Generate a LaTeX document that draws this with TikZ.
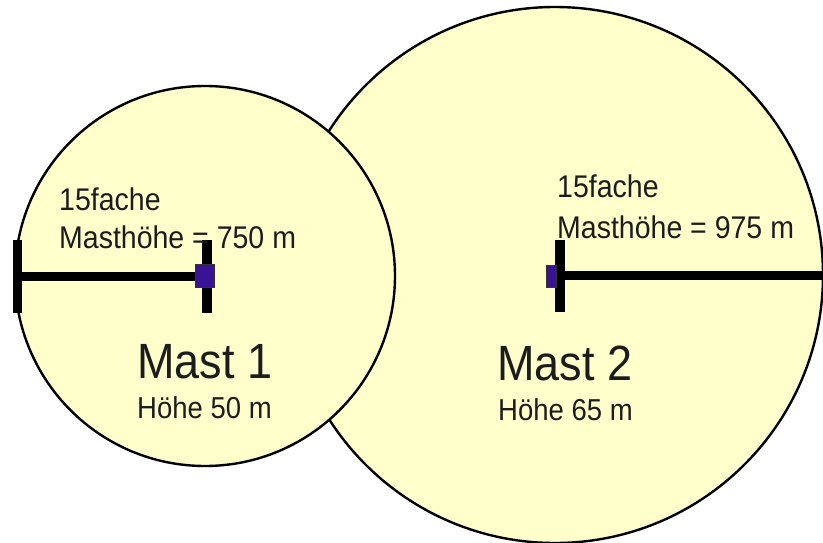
\documentclass[tikz,border=0pt]{standalone}
\usepackage{fontspec}
\setmainfont{Liberation Sans}
\newcommand{\tallish}[1]{\scalebox{1}[1.1]{#1}}
\begin{document}
\begin{tikzpicture}[x=1pt,y=-1pt,
  zone/.style={circle,draw=black,line width=2.4pt,fill=paleyellow,inner sep=0pt},
  boom/.style={line width=9.5pt,draw=black},
  post/.style={fill=black},
  hub/.style={fill=mastblue,draw=black!80,line width=0.8pt},
  note/.style={anchor=base west,inner sep=0pt,text=textgray,font=\fontsize{28.5}{34}\selectfont},
  title/.style={anchor=base west,inner sep=0pt,text=textgray,font=\fontsize{45}{50}\selectfont},
  sub/.style={anchor=base west,inner sep=0pt,text=textgray,font=\fontsize{27.5}{32}\selectfont}]
\definecolor{paleyellow}{RGB}{255,255,204}
\definecolor{mastblue}{RGB}{58,18,150}
\definecolor{textgray}{RGB}{28,28,28}
\useasboundingbox (0,0) rectangle (823,543);
\clip (0,0) rectangle (823,543);

% coverage zones: the larger one first, the smaller one on top
\node[zone,minimum size=536pt] (zone2) at (555,275) {};
\node[zone,minimum size=380pt] (zone1) at (205,276) {};

% mast 1 with its 750 m boom
\coordinate (m1) at (207,276.5);
\coordinate (end1) at (17.5,276.5);
\draw[boom] (end1) -- (m1);
\fill[post] (13,240) rectangle (22,313);
\fill[post] (202,240) rectangle (212,313);
\draw[hub] (195,264) rectangle (214,287);

% mast 2 with its 975 m boom
\coordinate (m2) at (560,275.5);
\coordinate (end2) at (823,275.5);
\draw[boom] (m2) -- (end2);
\fill[post] (555,240) rectangle (565,312);
\draw[hub] (546,265) rectangle (556,287);

% labels
\node[note] (n1a) at (59,210) {\tallish{15fache}};
\node[note] (n1b) at (59,248) {\tallish{Masthöhe = 750 m}};
\node[note] (n2a) at (557,197) {\tallish{15fache}};
\node[note] (n2b) at (557,238) {\tallish{Masthöhe = 975 m}};
\node[title] (t1) at (137,378) {\tallish{Mast 1}};
\node[sub] (s1) at (137,418) {\tallish{Höhe 50 m}};
\node[title] (t2) at (497,380) {\tallish{Mast 2}};
\node[sub] (s2) at (498,420) {\tallish{Höhe 65 m}};
\end{tikzpicture}
\end{document}
